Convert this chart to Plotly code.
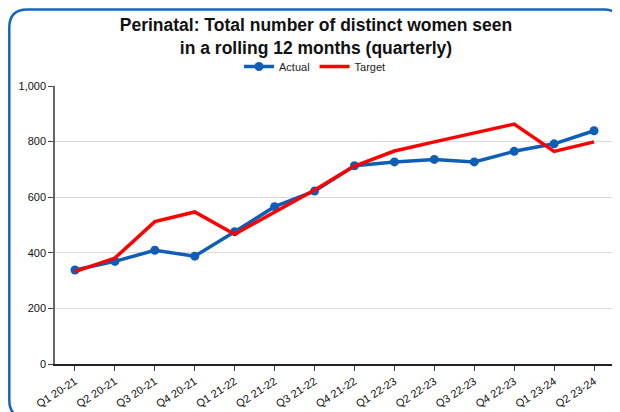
import plotly.graph_objects as go

quarters = ["Q1 20-21", "Q2 20-21", "Q3 20-21", "Q4 20-21", "Q1 21-22", "Q2 21-22",
            "Q3 21-22", "Q4 21-22", "Q1 22-23", "Q2 22-23", "Q3 22-23", "Q4 22-23",
            "Q1 23-24", "Q2 23-24"]
actual = [338, 369, 409, 388, 476, 566, 622, 713, 727, 736, 727, 765, 792, 839]
target = [332, 381, 512, 547, 467, 547, 626, 712, 766, 799, 832, 863, 765, 799]
y_ticks = [0, 200, 400, 600, 800, 1000]

# page body adds an 8px offset; figure coordinates are screen - 8
W, H = 620, 412
L, R, T, B = 47, 14, 78, 56
pw, ph = W - L - R, H - T - B

def px(x):
    return (x - L) / pw

def py(y):
    return (H - B - y) / ph

fig = go.Figure()
fig.add_trace(go.Scatter(
    x=quarters, y=actual, name="Actual", mode="lines+markers",
    line=dict(color="#0F5DB5", width=3.5),
    marker=dict(color="#0F5DB5", size=9, symbol="circle"),
))
fig.add_trace(go.Scatter(
    x=quarters, y=target, name="Target", mode="lines",
    line=dict(color="#FF0000", width=3.5),
))

# rounded border
x0, y0, x1, y1, r = px(1.3), py(1.5), px(613.5), py(410), 18
rx, ry = r / pw, r / ph
path = (f"M {x0+rx},{y0} L {x1-rx},{y0} Q {x1},{y0} {x1},{y0-ry} "
        f"L {x1},{y1+ry} Q {x1},{y1} {x1-rx},{y1} L {x0+rx},{y1} "
        f"Q {x0},{y1} {x0},{y1+ry} L {x0},{y0-ry} Q {x0},{y0} {x0+rx},{y0} Z")
fig.add_shape(type="path", path=path, xref="paper", yref="paper",
              line=dict(color="#1565C0", width=2.5), layer="above")

fig.update_layout(
    width=W, height=H,
    margin=dict(l=L, r=R, t=T, b=B, autoexpand=False),
    paper_bgcolor="white", plot_bgcolor="white",
    font=dict(family="Liberation Sans, Arial, sans-serif", color="#222"),
    title=dict(
        text="Perinatal: Total number of distinct women seen<br>in a rolling 12 months (quarterly)",
        x=(316 - 8) / W, xanchor="center", xref="container",
        y=1 - 23 / H, yanchor="top", yref="container",
        font=dict(size=17.5, color="#111", family="Liberation Sans, Arial, sans-serif", weight="bold"),
    ),
    legend=dict(
        orientation="h", x=(315 - 8) / W, xanchor="center", xref="container",
        y=1 - 44 / H, yanchor="top", yref="container",
        font=dict(size=11, color="#222"), itemwidth=30, tracegroupgap=0,
        bgcolor="rgba(0,0,0,0)",
    ),
    showlegend=True,
)
fig.update_xaxes(
    type="category", range=[-0.5, 13.5], automargin=False,
    showline=True, linecolor="#222", linewidth=1.5,
    ticks="outside", ticklen=5, tickcolor="#444", tickwidth=1,
    tickangle=-33, tickfont=dict(size=11, color="#111"),
    showgrid=False,
)
fig.update_yaxes(
    range=[0, 1000], tickvals=y_ticks, tickformat=",", automargin=False,
    showline=True, linecolor="#666", linewidth=1.5,
    ticks="outside", ticklen=5, tickcolor="#444",
    tickfont=dict(size=11, color="#111"),
    showgrid=True, gridcolor="#D9D9D9", gridwidth=1,
    zeroline=False,
)
fig.write_html("out.html")
